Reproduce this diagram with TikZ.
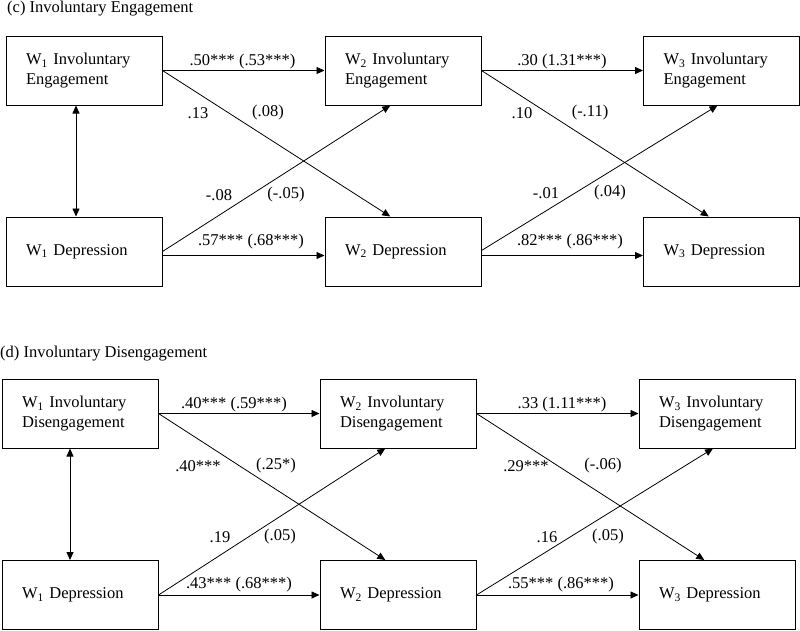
\documentclass[tikz,border=0pt]{standalone}
\usepackage{fontspec}
\setmainfont{Liberation Serif}
\usetikzlibrary{arrows.meta}
\tikzset{>={Triangle[length=8pt,width=7pt]}}
\tikzset{
  varbox/.style={draw, line width=1pt, minimum width=156pt, minimum height=69pt,
    inner sep=0pt, text width=116pt, align=left},
  coef/.style={inner sep=0pt},
  pathline/.style={->, line width=0.8pt}
}

\begin{document}
\begin{tikzpicture}[x=1pt, y=-1pt, font=\fontsize{16.5}{20}\selectfont]
                \useasboundingbox (0,0) rectangle (800,630);

                % (c) panel
                \node[coef, anchor=west] (titlec) at (7,9) {(c) Involuntary Engagement};
                \node[varbox] (ie1) at (84,70.5) {W\textsubscript{1} Involuntary\\Engagement};
                \node[varbox] (ie2) at (403,70.5) {W\textsubscript{2} Involuntary\\Engagement};
                \node[varbox] (ie3) at (721.5,70.5) {W\textsubscript{3} Involuntary\\Engagement};
                \node[varbox] (dc1) at (84,251.5) {W\textsubscript{1} Depression};
                \node[varbox] (dc2) at (403,251.5) {W\textsubscript{2} Depression};
                \node[varbox] (dc3) at (721.5,251.5) {W\textsubscript{3} Depression};

                % covariance W1
                \draw[<->, line width=0.8pt] ([xshift=-8pt]ie1.south) -- ([xshift=-8pt]dc1.north);
                % stability paths
                \draw[pathline] (ie1.east) -- (ie2.west);
                \draw[pathline] (ie2.east) -- (ie3.west);
                \draw[pathline] ([yshift=-4pt]dc1.east) -- ([yshift=-4pt]dc2.west);
                \draw[pathline] ([yshift=-4pt]dc2.east) -- ([yshift=-4pt]dc3.west);
                % cross-lagged paths
                \draw[pathline] (ie1.east) -- (dc2.110);
                \draw[pathline] (dc1.east) -- (ie2.250);
                \draw[pathline] (ie2.east) -- (dc3.110);
                \draw[pathline] ([yshift=1pt]dc2.east) -- ([xshift=-4pt]ie3.south);

                % coefficients
                \node[coef] (c12a) at (242.5,62) {.50*** (.53***)};
                \node[coef] (c23a) at (562,62) {.30 (1.31***)};
                \node[coef] (c12b) at (198,113) {.13};
                \node[coef] (c12c) at (268,113) {(.08)};
                \node[coef] (c23b) at (522,113) {.10};
                \node[coef] (c23c) at (590,113) {(-.11)};
                \node[coef] (c12d) at (219,195) {-.08};
                \node[coef] (c12e) at (286,195) {(-.05)};
                \node[coef] (c23d) at (546,193) {-.01};
                \node[coef] (c23e) at (610,193) {(.04)};
                \node[coef] (c12f) at (251,242) {.57*** (.68***)};
                \node[coef] (c23f) at (570,242) {.82*** (.86***)};

                % (d) panel
                \node[coef, anchor=west] (titled) at (0,354) {(d) Involuntary Disengagement};
                \node[varbox] (id1) at (80,413.5) {W\textsubscript{1} Involuntary\\Disengagement};
                \node[varbox] (id2) at (398,413.5) {W\textsubscript{2} Involuntary\\Disengagement};
                \node[varbox] (id3) at (717,413.5) {W\textsubscript{3} Involuntary\\Disengagement};
                \node[varbox] (dd1) at (80,595) {W\textsubscript{1} Depression};
                \node[varbox] (dd2) at (398,595) {W\textsubscript{2} Depression};
                \node[varbox] (dd3) at (717,595) {W\textsubscript{3} Depression};

                % covariance W1
                \draw[<->, line width=0.8pt] ([xshift=-10pt]id1.south) -- ([xshift=-10pt]dd1.north);
                % stability paths
                \draw[pathline] (id1.east) -- (id2.west);
                \draw[pathline] (id2.east) -- (id3.west);
                \draw[pathline] (dd1.east) -- (dd2.west);
                \draw[pathline] (dd2.east) -- (dd3.west);
                % cross-lagged paths
                \draw[pathline] (id1.east) -- (dd2.110);
                \draw[pathline] (dd1.east) -- (id2.250);
                \draw[pathline] (id2.east) -- (dd3.110);
                \draw[pathline] (dd2.east) -- ([xshift=-4pt]id3.south);

                % coefficients
                \node[coef] (d12a) at (234,405) {.40*** (.59***)};
                \node[coef] (d23a) at (562,405) {.33 (1.11***)};
                \node[coef] (d12b) at (198,466) {.40***};
                \node[coef] (d12c) at (276,466) {(.25*)};
                \node[coef] (d23b) at (526,466) {.29***};
                \node[coef] (d23c) at (603,466) {(-.06)};
                \node[coef] (d12d) at (220,537) {.19};
                \node[coef] (d12e) at (280,537) {(.05)};
                \node[coef] (d23d) at (547,537) {.16};
                \node[coef] (d23e) at (608,537) {(.05)};
                \node[coef] (d12f) at (239,585) {.43*** (.68***)};
                \node[coef] (d23f) at (561,585) {.55*** (.86***)};
            \end{tikzpicture}
\end{document}
